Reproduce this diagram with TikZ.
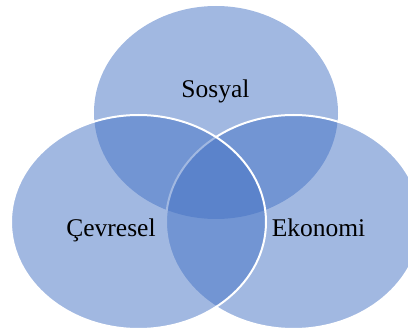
\documentclass[tikz,border=0pt]{standalone}
\usepackage{fontspec}
\setmainfont{Liberation Serif}
\definecolor{vennblue}{RGB}{68,114,196}
\tikzset{
  vennset/.style={fill=vennblue, fill opacity=0.5},
  vennrim/.style={vennset, draw=white, draw opacity=1, line width=2pt},
  vennlabel/.style={anchor=base, inner sep=0pt, text=black, font=\fontsize{25.5}{30}\selectfont}
}
\begin{document}
\begin{tikzpicture}[x=1pt, y=-1pt]
			%%%%% START %%%%%
			
			\useasboundingbox (0, 0) rectangle (408, 329);
			
			% circles, top first
			\fill[vennset] (216, 112.5) ellipse [x radius=122, y radius=106.5];
			\draw[vennrim] (293.5, 222) ellipse [x radius=127.5, y radius=107];
			\draw[vennrim] (138.5, 222) ellipse [x radius=127.5, y radius=107];
			
			% labels
			\node[vennlabel] (sosyal) at (215.5, 97.3) {Sosyal};
			\node[vennlabel] (cevresel) at (111, 236.7) {Çevresel};
			\node[vennlabel] (ekonomi) at (318.5, 237) {Ekonomi};
			
			%%%%% END %%%%%
\end{tikzpicture}
\end{document}
